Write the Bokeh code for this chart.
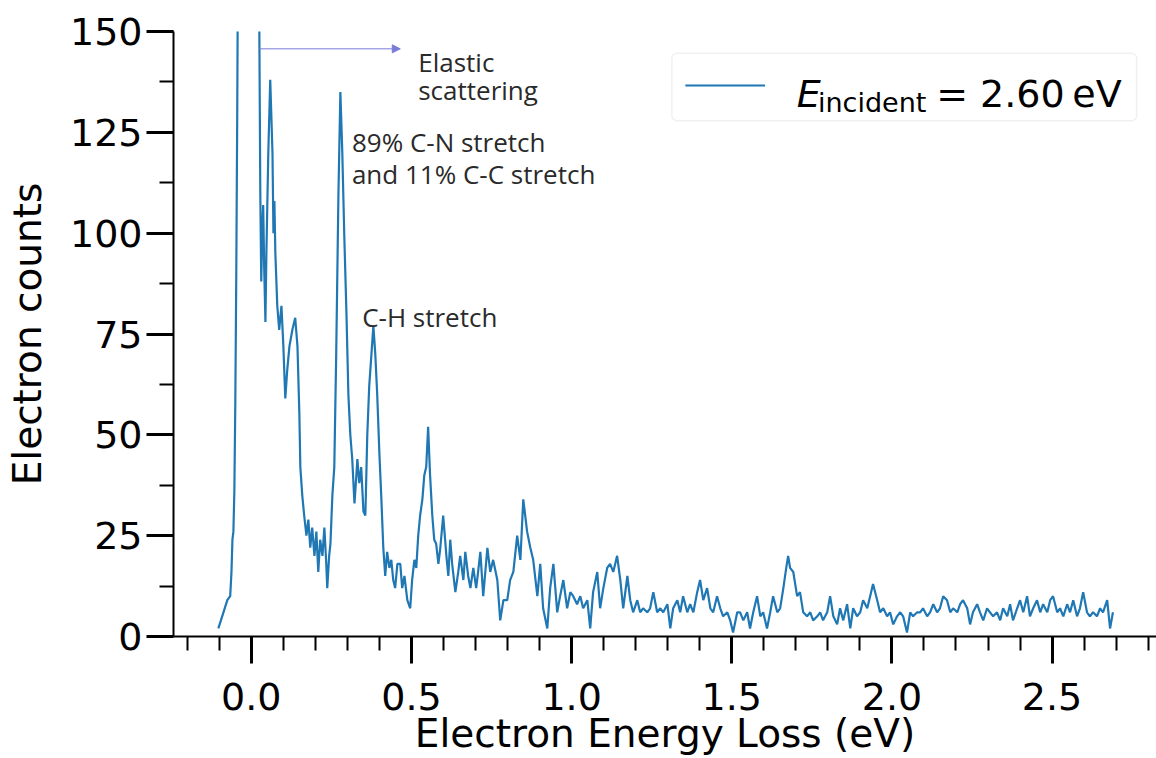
from bokeh.plotting import figure
from bokeh.models import (Label, Arrow, NormalHead, BoxAnnotation,
                          SingleIntervalTicker, Range1d, NumeralTickFormatter)
from bokeh.embed import file_html
from bokeh.resources import INLINE

# Electron energy loss (eV) and electron counts
energy_ev = [
    -0.103, -0.091, -0.075, -0.066, -0.062, -0.059, -0.056, -0.053, -0.050, -0.047,
    -0.044, -0.041, -0.034, -0.019, -0.003, 0.009, 0.019, 0.025, 0.028, 0.031,
    0.034, 0.037, 0.040, 0.044, 0.047, 0.053, 0.059, 0.066, 0.069, 0.072,
    0.075, 0.081, 0.087, 0.094, 0.100, 0.106, 0.112, 0.119, 0.128, 0.137,
    0.144, 0.150, 0.153, 0.159, 0.165, 0.172, 0.178, 0.184, 0.190, 0.197,
    0.203, 0.209, 0.215, 0.222, 0.228, 0.234, 0.237, 0.243, 0.247, 0.253,
    0.259, 0.265, 0.272, 0.278, 0.284, 0.290, 0.297, 0.303, 0.309, 0.315,
    0.322, 0.328, 0.331, 0.337, 0.343, 0.350, 0.356, 0.362, 0.368, 0.375,
    0.381, 0.387, 0.393, 0.400, 0.406, 0.412, 0.418, 0.424, 0.431, 0.437,
    0.443, 0.449, 0.456, 0.465, 0.471, 0.478, 0.487, 0.496, 0.502, 0.509,
    0.515, 0.521, 0.527, 0.534, 0.540, 0.546, 0.552, 0.558, 0.565, 0.571,
    0.577, 0.584, 0.590, 0.599, 0.609, 0.615, 0.621, 0.627, 0.637, 0.646,
    0.652, 0.662, 0.668, 0.677, 0.684, 0.693, 0.702, 0.708, 0.715, 0.724,
    0.737, 0.746, 0.755, 0.768, 0.777, 0.787, 0.799, 0.808, 0.818, 0.830,
    0.840, 0.849, 0.861, 0.871, 0.880, 0.893, 0.902, 0.911, 0.924, 0.933,
    0.943, 0.955, 0.964, 0.974, 0.986, 0.996, 1.005, 1.017, 1.027, 1.036,
    1.049, 1.058, 1.067, 1.080, 1.089, 1.099, 1.111, 1.120, 1.130, 1.142,
    1.152, 1.161, 1.174, 1.183, 1.192, 1.205, 1.214, 1.223, 1.236, 1.245,
    1.255, 1.267, 1.277, 1.286, 1.299, 1.308, 1.317, 1.330, 1.339, 1.348,
    1.361, 1.370, 1.380, 1.392, 1.401, 1.411, 1.423, 1.433, 1.442, 1.454,
    1.464, 1.473, 1.486, 1.495, 1.504, 1.517, 1.526, 1.536, 1.548, 1.557,
    1.567, 1.579, 1.589, 1.598, 1.610, 1.620, 1.629, 1.642, 1.651, 1.661,
    1.670, 1.676, 1.682, 1.692, 1.704, 1.713, 1.723, 1.735, 1.745, 1.754,
    1.767, 1.776, 1.785, 1.798, 1.807, 1.817, 1.829, 1.838, 1.848, 1.860,
    1.870, 1.879, 1.891, 1.901, 1.910, 1.923, 1.932, 1.941, 1.954, 1.963,
    1.973, 1.985, 1.994, 2.004, 2.016, 2.026, 2.035, 2.047, 2.057, 2.066,
    2.079, 2.088, 2.097, 2.110, 2.119, 2.129, 2.141, 2.150, 2.160, 2.172,
    2.182, 2.191, 2.204, 2.213, 2.222, 2.235, 2.244, 2.253, 2.266, 2.275,
    2.285, 2.297, 2.306, 2.316, 2.328, 2.338, 2.347, 2.360, 2.369, 2.378,
    2.391, 2.400, 2.410, 2.422, 2.431, 2.441, 2.453, 2.463, 2.472, 2.485,
    2.494, 2.503, 2.516, 2.525, 2.535, 2.547, 2.556, 2.566, 2.578, 2.587,
    2.597, 2.609, 2.618, 2.628, 2.640, 2.650, 2.659, 2.672, 2.681, 2.690,
]
counts = [
    2, 5, 9, 10, 16, 24, 26, 36, 58, 90,
    130, 180, 420, 900, 1200, 900, 420, 150, 110, 88,
    100, 107, 92, 78, 95, 120, 138, 120, 100, 108,
    95, 82, 76, 82, 72, 59, 66, 72, 76, 79,
    72, 55, 42, 35, 30, 25, 29, 22, 27, 20,
    26, 16, 24, 20, 27, 18, 12, 20, 23, 35,
    42, 70, 110, 135, 120, 100, 80, 60, 50, 44,
    33, 40, 44, 38, 42, 31, 30, 50, 62, 70,
    77, 70, 60, 45, 34, 22, 15, 21, 17, 19,
    14, 12, 18, 18, 12, 15, 9, 7, 14, 19,
    17, 25, 30, 34, 40, 42, 52, 40, 30, 24,
    23, 18, 22, 30, 20, 15, 24, 18, 11, 16,
    20, 14, 21, 15, 12, 17, 12, 16, 21, 10,
    22, 16, 19, 14, 4, 9, 9, 14, 16, 25,
    19, 34, 26, 22, 19, 10, 18, 7, 2, 12,
    18, 6, 10, 14, 7, 11, 10, 8, 10, 7,
    9, 2, 11, 16, 7, 12, 17, 18, 16, 20,
    14, 7, 15, 9, 6, 9, 6, 7, 6, 7,
    11, 6, 7, 6, 8, 2, 7, 9, 6, 10,
    6, 8, 6, 11, 14, 9, 12, 7, 6, 10,
    7, 5, 6, 4, 1, 6, 6, 4, 6, 2,
    6, 10, 5, 6, 2, 6, 10, 6, 7, 12,
    17, 20, 17, 16, 10, 11, 6, 5, 6, 4,
    5, 6, 4, 6, 10, 5, 3, 7, 4, 8,
    2, 7, 5, 6, 9, 7, 10, 13, 9, 6,
    7, 5, 6, 3, 5, 6, 5, 1, 6, 5,
    6, 6, 7, 5, 6, 8, 6, 7, 10, 9,
    6, 7, 6, 8, 9, 7, 3, 6, 8, 6,
    4, 7, 6, 5, 6, 4, 7, 5, 8, 4,
    7, 9, 6, 10, 5, 7, 9, 6, 8, 6,
    9, 10, 6, 7, 5, 8, 6, 9, 5, 7,
    11, 6, 5, 6, 5, 7, 6, 9, 2, 6,
]

annotation_texts = ["Elastic", "scattering", "89% C-N stretch",
                    "and 11% C-C stretch", "C-H stretch"]
incident_energy_label = "= 2.60\u2009eV"
x_axis_title = "Electron Energy Loss (eV)"
y_axis_title = "Electron counts"

p = figure(width=1156, height=758, output_backend="svg", toolbar_location=None,
           x_range=Range1d(-0.243, 2.826), y_range=Range1d(0, 150),
           min_border_left=173, min_border_right=0, min_border_top=31,
           min_border_bottom=122)
p.outline_line_color = None
p.xgrid.visible = False
p.ygrid.visible = False
p.background_fill_color = "white"
p.border_fill_color = "white"

r = p.line(energy_ev, counts, line_color="#1f77b4", line_width=2.2)

FONT = "DejaVu Sans"
p.xaxis.ticker = SingleIntervalTicker(interval=0.5, num_minor_ticks=5)
p.yaxis.ticker = SingleIntervalTicker(interval=25, num_minor_ticks=2)
p.xaxis.formatter = NumeralTickFormatter(format="0.0")
for ax in (p.xaxis[0], p.yaxis[0]):
    ax.axis_line_width = 2
    ax.axis_line_color = "black"
    ax.major_tick_in = 0
    ax.major_tick_out = 27
    ax.major_tick_line_width = 3
    ax.minor_tick_in = 0
    ax.minor_tick_out = 14
    ax.minor_tick_line_width = 2
    ax.major_label_text_font = FONT
    ax.major_label_text_font_size = "38px"
    ax.major_label_text_color = "black"
    ax.axis_label_text_font = FONT
    ax.axis_label_text_font_size = "39px"
    ax.axis_label_text_font_style = "normal"
    ax.axis_label_text_color = "black"

p.xaxis.axis_label = x_axis_title
p.yaxis.axis_label = y_axis_title
p.xaxis.major_label_standoff = 19
p.xaxis.axis_label_standoff = -2
p.yaxis.major_label_standoff = 4
p.yaxis.axis_label_standoff = 17

# Legend box with line sample
p.add_layout(BoxAnnotation(left=1.313, right=2.764, bottom=127.9, top=144.6,
                           fill_color="white", fill_alpha=0.8,
                           line_color="#cccccc", line_width=1.5,
                           border_radius=5))
p.add_layout(Arrow(start=None, end=None, x_start=1.355, y_start=136.6,
                   x_end=1.604, y_end=136.6, line_color="#1f77b4",
                   line_width=2))

# Legend label: E_incident = 2.60 eV
p.add_layout(Label(x=1.703, y=134.6, text="E", text_font=FONT,
                   text_font_style="italic", text_font_size="38px",
                   text_baseline="alphabetic", text_color="black"))
p.add_layout(Label(x=1.769, y=132.5, text="incident", text_font=FONT,
                   text_font_size="27px", text_baseline="alphabetic",
                   text_color="black"))
p.add_layout(Label(x=2.138, y=134.6, text=incident_energy_label, text_font=FONT,
                   text_font_size="38px", text_baseline="alphabetic",
                   text_color="black"))

# Annotations
ann_x = [0.521, 0.521, 0.314, 0.314, 0.346]
ann_y = [142.4, 135.4, 122.6, 114.7, 79.2]
for tx, ty, tt in zip(ann_x, ann_y, annotation_texts):
    p.add_layout(Label(x=tx, y=ty, text=tt, text_font="Open Sans",
                       text_font_size="26px", text_baseline="alphabetic",
                       text_color="#2a2a2a"))

p.add_layout(Arrow(end=NormalHead(size=8, fill_color="#7a7ad8",
                                  line_color="#7a7ad8"),
                   x_start=0.025, y_start=145.7, x_end=0.465, y_end=145.7,
                   line_color="#7a7ad8", line_width=1))

open("out.html", "w").write(file_html(p, INLINE))
